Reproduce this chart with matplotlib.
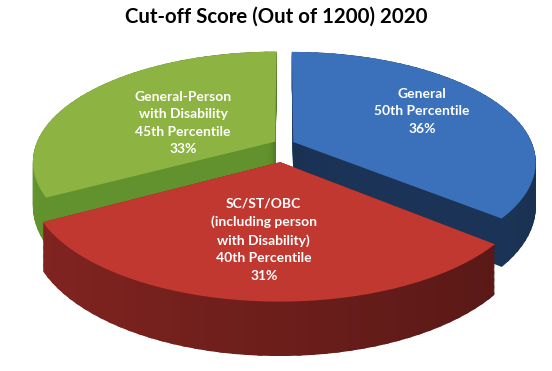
import numpy as np
import matplotlib
matplotlib.use('Agg')
import matplotlib.pyplot as plt
import matplotlib.transforms as mtransforms
from matplotlib.path import Path
from matplotlib.patches import Wedge
from matplotlib.colors import to_rgb

title = "Cut-off Score (Out of 1200) 2020"
categories = ["General\n50th Percentile",
              "SC/ST/OBC\n(including person\nwith Disability)\n40th Percentile",
              "General-Person\nwith Disability\n45th Percentile"]
shares = [36, 31, 33]
explode = [0.043, 0.165, 0.043]

top_colors = ['#3b71bb', '#c0382f', '#8db342']
side_colors = ['#213e68', '#6c1e1b', '#527a26']

# view geometry (pixels)
CX, CY, RX, RY, K, DEPTH = 284.0, 227.0, 239.0, 107.0, 0.18, 43


class Persp(mtransforms.Transform):
    input_dims = 2
    output_dims = 2
    is_separable = False
    has_inverse = False

    def __init__(self, z=0.0):
        super().__init__()
        self.z = z

    def transform_non_affine(self, values):
        v = np.atleast_2d(np.asarray(values, dtype=float))
        X = v[:, 0]
        Y = v[:, 1]
        s = 1.0 / (1.0 + K * Y)
        return np.column_stack((CX + X * RX * s, CY + (Y * RY + self.z) * s))

    def transform_path_non_affine(self, path):
        pts = []
        for seg, code in path.iter_bezier():
            if code == Path.MOVETO:
                pts.append(np.atleast_2d(seg.control_points))
            else:
                pts.append(seg(np.linspace(0, 1, 12))[1:])
        pts = np.concatenate(pts)
        return Path(self.transform_non_affine(pts), closed=True)


fig = plt.figure(figsize=(5.52, 3.71), dpi=100)
ax = fig.add_axes([0, 0, 1, 1])

base_z = [1, 3, 1]
top, _ = ax.pie(shares, explode=explode, startangle=90, counterclock=False,
                colors=top_colors, labeldistance=None,
                wedgeprops=dict(linewidth=0))
for i, w in enumerate(top):
    w.set_transform(Persp(0.0) + ax.transData)
    w.set_zorder(base_z[i] + 0.9)

# extruded sides, shaded by direction (light from the left)
layers = np.arange(-DEPTH, 1, 1)
for i, w in enumerate(top):
    n = int(np.ceil((w.theta2 - w.theta1) / 2.5))
    edges = np.linspace(w.theta1, w.theta2, n + 1)
    rgb = np.array(to_rgb(side_colors[i]))
    cols = []
    for j in range(n):
        mid = np.deg2rad((edges[j] + edges[j + 1]) / 2)
        cols.append(np.clip(rgb * (1 - 0.22 * np.cos(mid)), 0, 1))
    for li, z in enumerate(layers):
        tr = Persp(float(z)) + ax.transData
        for j in range(n):
            t2 = min(edges[j + 1] + 1.0, w.theta2)
            p = Wedge(w.center, w.r, edges[j], t2, facecolor=cols[j],
                      linewidth=0, transform=tr, zorder=base_z[i] + li * 0.001)
            ax.add_patch(p)

label_r = [0.65, 0.61, 0.44]
label_da = [3.0, 0.0, 6.1]
for i, w in enumerate(top):
    mid = np.deg2rad((w.theta1 + w.theta2) / 2 + label_da[i])
    c0x, c0y = w.center
    x = c0x + label_r[i] * np.cos(mid)
    y = c0y + label_r[i] * np.sin(mid)
    ax.text(x, y, f"{categories[i]}\n{shares[i]}%", transform=Persp(0.0) + ax.transData,
            ha='center', va='center', color='white', fontsize=10,
            fontweight='bold', family='Lato', linespacing=1.55, zorder=10)

ax.set_xlim(0, 552)
ax.set_ylim(0, 371)
ax.set_aspect('auto')
ax.axis('off')

fig.text(0.5, 1 - 17 / 371, title, ha='center', va='center', fontsize=14.7,
         fontweight='bold', family='Lato')

fig.savefig('out.png', dpi=100)
